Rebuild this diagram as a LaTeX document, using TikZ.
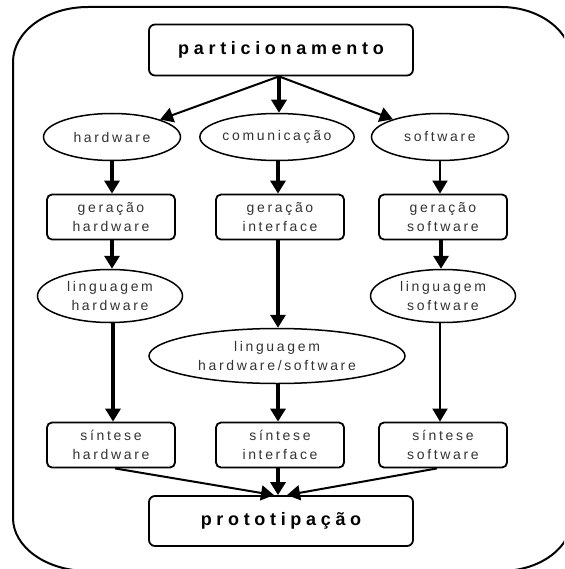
\documentclass[tikz,border=0pt]{standalone}
\usepackage{fontspec}
\setmainfont{Liberation Sans}
\newfontfamily\flowfont[LetterSpace=19]{Liberation Sans}
\newfontfamily\phasefont[LetterSpace=26]{Liberation Sans}
\usetikzlibrary{arrows.meta,shapes.geometric}

\tikzset{
  every node/.style={align=center, inner sep=0pt},
  stepbox/.style={draw, line width=1.8pt, rounded corners=5pt,
    minimum width=128pt, minimum height=45pt, text=black!80,
    font=\flowfont\fontsize{14}{19}\selectfont},
  stepoval/.style={draw, ellipse, line width=1.5pt, text=black!80,
    font=\flowfont\fontsize{14}{19}\selectfont},
  phasebox/.style={draw, line width=1.8pt, rounded corners=6pt,
    minimum width=264pt, minimum height=51pt,
    font=\phasefont\bfseries\fontsize{18}{20}\selectfont},
  flow/.style={-{Triangle[length=13pt,width=15pt]}, line width=3.5pt},
  thinflow/.style={-{Triangle[length=13pt,width=15pt]}, line width=2pt},
  frame/.style={line width=2pt},
}

\begin{document}
\begin{tikzpicture}[x=1pt,y=-1pt]
\useasboundingbox (0,0) rectangle (564,569);

% outer rounded frame, partly running off the page
\begin{scope}
\clip (0,0) rectangle (564,569);
\draw[frame] (13,62) -- (13,518)
  .. controls (13,547.3) and (46.6,571) .. (88,571)
  -- (501,571)
  .. controls (540.2,571) and (572,547.3) .. (572,518)
  -- (572,62)
  .. controls (572,31.6) and (540.2,7) .. (501,7)
  -- (88,7)
  .. controls (46.6,7) and (13,31.6) .. (13,62) -- cycle;
\end{scope}

% nodes
\node[phasebox] (part) at (281,50) {particionamento};

\node[stepoval, minimum width=137pt, minimum height=47pt] (hw) at (112,137) {hardware};
\node[stepoval, minimum width=138pt, minimum height=47pt] (com) at (277,137) {comunicação};
\node[stepoval, minimum width=137pt, minimum height=47pt] (sw) at (440,137) {software};

\node[stepbox] (gh) at (111,217) {geração\\hardware};
\node[stepbox] (gi) at (280,217) {geração\\interface};
\node[stepbox] (gs) at (443,217) {geração\\software};

\node[stepoval, minimum width=145pt, minimum height=53pt] (lh) at (110,296) {linguagem\\hardware};
\node[stepoval, minimum width=145pt, minimum height=53pt] (ls) at (443,296) {linguagem\\software};
\node[stepoval, minimum width=256pt, minimum height=55pt] (lhs) at (277,356) {linguagem\\hardware/software};

\node[stepbox] (sh) at (111,445) {síntese\\hardware};
\node[stepbox] (si) at (280,445) {síntese\\interface};
\node[stepbox] (ss) at (443,445) {síntese\\software};

\node[phasebox, minimum height=50pt] (proto) at (281,521) {prototipação};

% connectors
\draw[thinflow] ([xshift=-2pt]part.south) -- (hw);
\draw[flow] ([xshift=-2pt]part.south) -- ([xshift=-2pt]part.south |- com.north);
\draw[thinflow] ([xshift=-2pt]part.south) -- (sw);

\draw[flow] (hw.south) -- (hw.south |- gh.north);
\draw[flow] ([xshift=1pt]com.south) -- ([xshift=1pt]com.south |- gi.north);
\draw[thinflow] (sw.south) -- (sw.south |- gs.north);

\draw[flow] ([xshift=1pt]gh.south) -- ([xshift=1pt]gh.south |- lh.north);
\draw[flow] ([xshift=-2pt]gi.south) -- ([xshift=-2pt]gi.south |- lhs.north);
\draw[flow] ([xshift=-2pt]gs.south) -- ([xshift=-2pt]gs.south |- ls.north);

\draw[flow] ([xshift=3pt]lh.south) -- ([xshift=3pt]lh.south |- sh.north);
\draw[flow] ([xshift=1pt]lhs.south) -- ([xshift=1pt]lhs.south |- si.north);
\draw[thinflow] ([xshift=-3pt]ls.south) -- ([xshift=-3pt]ls.south |- ss.north);

\draw[thinflow] ([xshift=4pt]sh.south) -- ([xshift=-7pt]proto.north);
\draw[flow] ([xshift=-2pt]si.south) -- ([xshift=-2pt]si.south |- proto.north);
\draw[thinflow] ([xshift=-6pt]ss.south) -- ([xshift=6pt]proto.north);
\end{tikzpicture}
\end{document}
